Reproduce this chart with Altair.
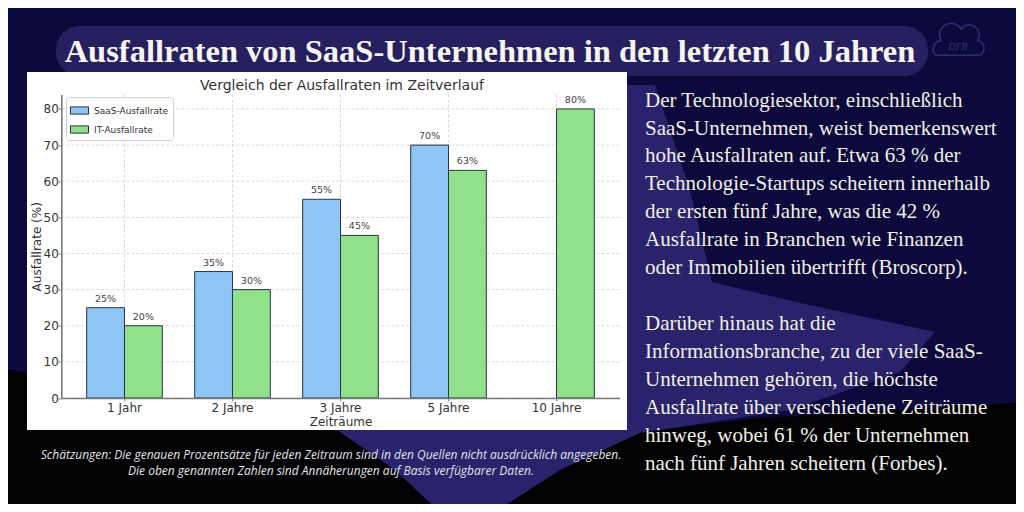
import altair as alt
import pandas as pd

# ---------------- data ----------------
periods = ["1 Jahr", "2 Jahre", "3 Jahre", "5 Jahre", "10 Jahre"]
series = ["SaaS-Ausfallrate", "IT-Ausfallrate"]
saas_rates = [25, 35, 55, 70, None]
it_rates = [20, 30, 45, 63, 80]
y_ticks = [0, 10, 20, 30, 40, 50, 60, 70, 80]

main_title = "Ausfallraten von SaaS-Unternehmen in den letzten 10 Jahren"
chart_title = "Vergleich der Ausfallraten im Zeitverlauf"
x_title = "Zeiträume"
y_title = "Ausfallrate (%)"
para1 = [
    "Der Technologiesektor, einschließlich",
    "SaaS-Unternehmen, weist bemerkenswert",
    "hohe Ausfallraten auf. Etwa 63 % der",
    "Technologie-Startups scheitern innerhalb",
    "der ersten fünf Jahre, was die 42 %",
    "Ausfallrate in Branchen wie Finanzen",
    "oder Immobilien übertrifft (Broscorp).",
]
para2 = [
    "Darüber hinaus hat die",
    "Informationsbranche, zu der viele SaaS-",
    "Unternehmen gehören, die höchste",
    "Ausfallrate über verschiedene Zeiträume",
    "hinweg, wobei 61 % der Unternehmen",
    "nach fünf Jahren scheitern (Forbes).",
]
footer = [
    "Schätzungen: Die genauen Prozentsätze für jeden Zeitraum sind in den Quellen nicht ausdrücklich angegeben.",
    "Die oben genannten Zahlen sind Annäherungen auf Basis verfügbarer Daten.",
]
logo_text = "DFR"

rows = []
for p, s_, i_ in zip(periods, saas_rates, it_rates):
    if s_ is not None:
        rows.append({"period": p, "serie": series[0], "value": s_, "label": f"{s_}%"})
    if i_ is not None:
        rows.append({"period": p, "serie": series[1], "value": i_, "label": f"{i_}%"})
df = pd.DataFrame(rows)
df_ticks = pd.DataFrame({"value": y_ticks})
df_periods = pd.DataFrame({"period": periods})
one = pd.DataFrame({"d": [0]})

# ---------------- layout (page pixels) ----------------
OX, OY = 61.3, 94.5      # plot-area origin on page
W, H = 558.4, 303.5      # plot-area size


def px(X):
    return X - OX


def py(Y):
    return Y - OY


NAVY = "#0c0a3c"
PURPLE = "#28236b"
BLACK = "#020205"

# ---------------- background shapes ----------------
CX, CY, S = 512, 256, 512


def poly(points):
    return "M" + "L".join(f"{(x - CX) / S:.4f},{(y - CY) / S:.4f}" for x, y in points) + "Z"


def shape_layer(points, color):
    return alt.Chart(one).mark_point(
        shape=poly(points), filled=True, color=color, opacity=1, strokeWidth=0,
        size=(2 * S) ** 2
    ).encode(x=alt.value(px(CX)), y=alt.value(py(CY)))


purple_pts = [(560, 85), (655, 85), (690, 190), (712, 282), (800, 303), (935, 332),
              (900, 372), (790, 410), (640, 433), (560, 470), (495, 512), (440, 512),
              (395, 470), (340, 432), (330, 300)]
black_left_pts = [(0, 368), (200, 402), (340, 432), (395, 470), (440, 512), (0, 512)]
black_right_pts = [(630, 433), (760, 418), (1024, 402), (1024, 512), (495, 512), (560, 470)]

bg_purple = shape_layer(purple_pts, PURPLE)
bg_black_l = shape_layer(black_left_pts, BLACK)
bg_black_r = shape_layer(black_right_pts, BLACK)

pill = alt.Chart(one).mark_rect(color="#262061", cornerRadius=24).encode(
    x=alt.value(px(56)), x2=alt.value(px(928)), y=alt.value(py(26)), y2=alt.value(py(76)))
title_txt = alt.Chart(one).mark_text(
    font="Liberation Serif", fontSize=32.5, fontWeight="bold", color="#f7f5ef",
    align="center", baseline="alphabetic"
).encode(x=alt.value(px(490)), y=alt.value(py(61.5)), text=alt.value(main_title))

# faint logo (cloud) at the top right
cloud_path = ("M-0.8,0.45 A0.3,0.3 0 0 1 -0.62,-0.08 A0.42,0.42 0 0 1 0.12,-0.5 "
              "A0.36,0.36 0 0 1 0.72,-0.1 A0.3,0.3 0 0 1 0.8,0.45 Z")
logo = alt.Chart(one).mark_point(
    shape=cloud_path, filled=False, color="#2f2d72", strokeWidth=1.5, opacity=1, size=3000
).encode(x=alt.value(px(958)), y=alt.value(py(43)))
logo_txt = alt.Chart(one).mark_text(
    font="Liberation Serif", fontSize=10, fontStyle="italic", color="#34327a", align="center"
).encode(x=alt.value(px(958)), y=alt.value(py(47)), text=alt.value(logo_text))

panel = alt.Chart(one).mark_rect(color="#ffffff").encode(
    x=alt.value(px(27)), x2=alt.value(px(627)), y=alt.value(py(72)), y2=alt.value(py(430)))

# ---------------- chart ----------------
xscale = alt.Scale(paddingInner=0.3, paddingOuter=0.235)
yscale = alt.Scale(domain=[0, 84], nice=False)
AX = dict(grid=False, zindex=1, domainColor="#7a7a7a", domainWidth=1.6,
          tickColor="#7a7a7a", tickSize=3, labelFont="DejaVu Sans", labelFontSize=12,
          labelColor="#333333", titleFont="DejaVu Sans", titleFontSize=12,
          titleFontWeight="normal", titleColor="#333333")
xaxis = alt.Axis(title=x_title, labelAngle=0, labelPadding=1, titlePadding=3, **AX)
yaxis = alt.Axis(title=y_title, values=y_ticks, labelPadding=0,
                 titleX=px(36.5), titleY=H / 2, titleAngle=270, titleAlign="center",
                 titleBaseline="middle", **AX)

X = alt.X("period:N", sort=periods, scale=xscale, axis=xaxis)
Y = alt.Y("value:Q", scale=yscale, axis=yaxis)
XOFF = alt.XOffset("serie:N", sort=series, scale=alt.Scale(paddingInner=0, paddingOuter=0))

hgrid = alt.Chart(df_ticks).mark_rule(color="#d0d0d0", strokeDash=[3, 2], strokeWidth=0.8).encode(
    y=Y, x=alt.value(0), x2=alt.value(W))
vgrid = alt.Chart(df_periods).mark_rule(color="#d0d0d0", strokeDash=[3, 2], strokeWidth=0.8).encode(
    x=alt.X("period:N", sort=periods, scale=xscale, axis=xaxis, bandPosition=0.5),
    y=alt.value(0), y2=alt.value(H))

bars = alt.Chart(df).mark_bar(stroke="#2d3340", strokeWidth=1, opacity=1).encode(
    x=X, y=Y, xOffset=XOFF,
    color=alt.Color("serie:N", sort=series,
                    scale=alt.Scale(domain=series, range=["#8ec6f5", "#91e08b"]),
                    legend=alt.Legend(
                        orient="none", legendX=px(66), legendY=py(97), title=None,
                        fillColor="#ffffff", strokeColor="#cfcfcf", cornerRadius=3, padding=4,
                        symbolType="M-1,-0.4H1V0.4H-1Z", symbolSize=324,
                        symbolStrokeColor="#2d3340", symbolStrokeWidth=1, symbolOpacity=1,
                        labelFont="DejaVu Sans", labelFontSize=9, labelColor="#333333",
                        rowPadding=3, labelOffset=5)),
)
labels = alt.Chart(df).mark_text(
    font="DejaVu Sans", fontSize=9.5, color="#444444", baseline="bottom", dy=-4
).encode(x=X, y=Y, xOffset=XOFF, text="label:N")

ctitle = alt.Chart(one).mark_text(
    font="DejaVu Sans", fontSize=14, color="#333333", align="center", baseline="alphabetic"
).encode(x=alt.value(px(342)), y=alt.value(py(90)), text=alt.value(chart_title))

# ---------------- texts ----------------
TXT = dict(font="Liberation Serif", fontSize=21, color="#f2efe6", align="left",
           baseline="alphabetic", lineBreak="\n", lineHeight=27.9)
p1 = alt.Chart(one).mark_text(**TXT).encode(
    x=alt.value(px(645)), y=alt.value(py(106.7)), text=alt.value("\n".join(para1)))
p2 = alt.Chart(one).mark_text(**TXT).encode(
    x=alt.value(px(645)), y=alt.value(py(330)), text=alt.value("\n".join(para2)))

foot = alt.Chart(one).mark_text(
    font="Open Sans", fontSize=12, fontStyle="italic", color="#e2e2e8", align="center",
    baseline="alphabetic", lineBreak="\n", lineHeight=16
).encode(x=alt.value(px(331)), y=alt.value(py(459)), text=alt.value("\n".join(footer)))

chart = alt.layer(
    bg_black_l, bg_black_r, bg_purple, pill, title_txt, logo, logo_txt, panel,
    hgrid, vgrid, bars, labels, ctitle, p1, p2, foot
).properties(
    width=W, height=H,
    padding={"left": OX - 8, "top": OY - 8, "right": 1016 - (OX + W), "bottom": 504 - (OY + H)},
    autosize=alt.AutoSizeParams(type="none"),
    background=NAVY,
).configure_view(stroke=None)

chart.save("out.html", embed_options={"renderer": "svg", "actions": False})
